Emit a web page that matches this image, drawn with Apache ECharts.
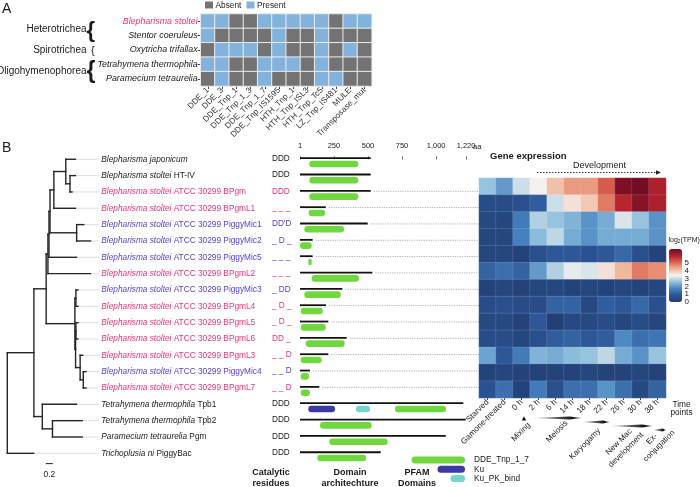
<!DOCTYPE html>
<html><head><meta charset="utf-8">
<script src="https://cdn.jsdelivr.net/npm/echarts@6/dist/echarts.min.js"></script>
<style>html,body{margin:0;padding:0;background:#fff}#c{width:700px;height:487px}</style>
</head><body><div id="c"></div>
<script>
// ---------------- Panel A data ----------------
const taxaA = ['Blepharisma stoltei','Stentor coeruleus','Oxytricha trifallax','Tetrahymena thermophila','Paramecium tetraurelia'];
const domainsA = ['DDE_1','DDE_3','DDE_Tnp_1','DDE_Tnp_1_3','DDE_Tnp_1_7','DDE_Tnp_IS1595','HTH_Tnp_1','HTH_Tnp_ISL3','HTH_Tnp_Tc5','LZ_Tnp_IS481','MULE','Transposase_mut'];
const presBstoltei      = [1,1,0,0,1,1,1,1,1,0,1,1];
const presScoeruleus    = [1,0,0,0,0,1,0,0,1,0,0,0];
const presOtrifallax    = [0,1,1,1,0,1,0,0,1,0,1,0];
const presTthermophila  = [1,1,0,0,1,1,1,0,1,0,0,0];
const presPtetraurelia  = [0,1,0,0,1,0,0,0,1,1,0,0];
const presenceRows = [presBstoltei, presScoeruleus, presOtrifallax, presTthermophila, presPtetraurelia];
const classesA = ['Heterotrichea','Spirotrichea','Oligohymenophorea'];

// ---------------- Panel B data ----------------
const leafIds = ['jap','htiv','bpgm','L1','M1','M2','M5','L2','M3','L4','L5','L6','L3','M4','L7','tpb1','tpb2','pgm','pbac'];
const leafItalic = ['Blepharisma japonicum','Blepharisma stoltei','Blepharisma stoltei','Blepharisma stoltei','Blepharisma stoltei','Blepharisma stoltei','Blepharisma stoltei','Blepharisma stoltei','Blepharisma stoltei','Blepharisma stoltei','Blepharisma stoltei','Blepharisma stoltei','Blepharisma stoltei','Blepharisma stoltei','Blepharisma stoltei','Tetrahymena thermophila','Tetrahymena thermophila','Paramecium tetraurelia','Trichoplusia ni'];
const leafSuffix = ['','HT-IV','ATCC 30299 BPgm','ATCC 30299 BPgmL1','ATCC 30299 PiggyMic1','ATCC 30299 PiggyMic2','ATCC 30299 PiggyMic5','ATCC 30299 BPgmL2','ATCC 30299 PiggyMic3','ATCC 30299 BPgmL4','ATCC 30299 BPgmL5','ATCC 30299 BPgmL6','ATCC 30299 BPgmL3','ATCC 30299 PiggyMic4','ATCC 30299 BPgmL7','Tpb1','Tpb2','Pgm','PiggyBac'];
// tree (Newick, branch lengths in substitutions/site)
const treeNewick = '((((((((jap:0.28,(htiv:0.16,bpgm:0.06):0.12):0.34,L1:0.62):0.11,(M1:0.21,M2:0.40):0.76):0.03,M5:0.79):0.03,L2:1.22):0.05,((M3:0.06,L4:0.06):0.03,((L5:0.06,L6:0.06):0.01,(L3:0.08,(M4:0.08,L7:0.08):0.09):0.13):0.02):0.82):0.35,(tpb1:0.98,(tpb2:0.85,pgm:0.85):0.29):0.24):0.76,pbac:0.76);';
const scaleBarLength = 0.2;
const catalytic = ['DDD','DDD','DDD','_ _ _',"DD'D",'_ D _','_ _ _','_ _ _','_ DD','_ D _','_ D _','DD _','_ _ D','_ _ D','_ _ D','DDD','DDD','DDD','DDD'];
// protein lengths and domains (aa)
const proteinLength = [520,520,520,190,498,94,94,532,312,192,209,344,209,74,143,1200,1218,1071,593];
const ddeStart = [69,69,69,65,33,1,62,87,33,6,6,43,6,6,6,698,148,216,128];
const ddeEnd   = [429,429,429,185,324,87,87,434,300,168,190,329,160,67,74,1073,527,645,486];
const kuStart   = [0,0,0,0,0,0,0,0,0,0,0,0,0,0,0,62,0,0,0];
const kuEnd     = [0,0,0,0,0,0,0,0,0,0,0,0,0,0,0,258,0,0,0];
const kuPkStart = [0,0,0,0,0,0,0,0,0,0,0,0,0,0,0,412,0,0,0];
const kuPkEnd   = [0,0,0,0,0,0,0,0,0,0,0,0,0,0,0,515,0,0,0];
const aaTicks = [1,250,500,750,1000,1220];
// expression log2(TPM)
const timePoints = ['Starved','Gamone-treated','0 h','2 h','6 h','14 h','18 h','22 h','26 h','30 h','38 h'];
const exprNames = ['BPgm','BPgmL1','PiggyMic1','PiggyMic2','PiggyMic5','BPgmL2','PiggyMic3','BPgmL4','BPgmL5','BPgmL6','BPgmL3','PiggyMic4','BPgmL7'];
const exprBPgm      = [2.3,1.8,2.7,3.0,3.6,4.0,4.0,4.6,5.8,5.9,5.3];
const exprBPgmL1    = [0.5,0.5,0.6,0.9,2.7,3.2,3.5,4.3,5.2,5.7,5.3];
const exprPiggyMic1 = [0.4,0.3,1.4,2.5,2.3,2.1,1.7,2.0,2.8,2.3,1.7];
const exprPiggyMic2 = [0.3,0.3,1.5,2.2,2.6,2.0,1.7,2.0,2.0,2.0,1.7];
const exprPiggyMic5 = [0.3,0.3,0.2,0.6,0.8,0.8,0.7,0.8,1.1,0.6,0.2];
const exprBPgmL2    = [1.0,1.2,1.0,1.8,2.5,2.9,2.8,3.2,3.7,4.3,4.1];
const exprPiggyMic3 = [0.2,0.3,0.2,0.3,0.3,0.2,0.3,0.2,0.3,0.2,0.3];
const exprBPgmL4    = [0.5,0.6,0.5,0.5,1.0,1.0,0.4,0.9,0.8,1.1,0.6];
const exprBPgmL5    = [0.4,0.4,0.2,0.8,0.1,0.4,0.4,0.5,0.3,0.5,0.3];
const exprBPgmL6    = [0.5,0.5,0.3,0.6,0.9,1.0,0.8,0.9,1.6,1.2,1.3];
const exprBPgmL3    = [1.9,0.8,1.4,2.1,2.0,2.2,2.3,2.6,2.0,1.7,2.3];
const exprPiggyMic4 = [0.2,0.3,0.2,0.2,0.2,0.2,0.3,0.2,0.2,0.3,0.2];
const exprBPgmL7    = [0.7,1.2,0.2,1.4,0.6,1.2,1.2,1.7,1.2,0.4,1.0];
const exprRows = [exprBPgm,exprBPgmL1,exprPiggyMic1,exprPiggyMic2,exprPiggyMic5,exprBPgmL2,exprPiggyMic3,exprBPgmL4,exprBPgmL5,exprBPgmL6,exprBPgmL3,exprPiggyMic4,exprBPgmL7];
const colorTicks = [0,1,2,3,4,5];

// ---------------- styles ----------------
const FF = '"Liberation Sans", Arial, Helvetica, sans-serif';
const INK = '#1a1a1a', PINK = '#e8337d', PURPLE = '#5b40cc';
const ABSENT = '#737373', PRESENT = '#82b3dd';
const GREEN = '#6fd83f', KU = '#3a3aa6', KUPK = '#72d6cc';

// ---------------- build tree ----------------
function parseNewick(s){
  let i = 0;
  function node(){
    const n = {c:[], name:'', d:0};
    if (s[i] === '('){ i++; n.c.push(node()); while (s[i] === ','){ i++; n.c.push(node()); } i++; }
    let nm = ''; while (i < s.length && !',():;'.includes(s[i])) nm += s[i++];
    n.name = nm;
    if (s[i] === ':'){ i++; let num=''; while (i < s.length && !',();'.includes(s[i])) num += s[i++]; n.d = parseFloat(num); }
    return n;
  }
  return node();
}
const treeRoot = parseNewick(treeNewick);
const segData = [], tipData = [];
(function layout(node, px){
  node.x = px + node.d;
  if (node.c.length){
    node.c.forEach(ch => layout(ch, node.x));
    node.y = (node.c[0].y + node.c[node.c.length-1].y) / 2;
    segData.push([node.x, node.c[0].y, node.x, node.c[node.c.length-1].y]);
  } else {
    node.y = leafIds.indexOf(node.name);
    tipData.push([node.x, node.y]);
  }
  segData.push([px, node.y, node.x, node.y]);
})(treeRoot, -0.17);

function leafColor(r){
  const s = leafSuffix[r];
  if (s.indexOf('PiggyMic') >= 0) return PURPLE;
  if (s.indexOf('BPgm') >= 0) return PINK;
  return INK;
}
function exprIndex(r){ const p = leafSuffix[r].split(' '); return exprNames.indexOf(p[p.length-1]); }

// ---------------- series data ----------------
const heatA = [];
presenceRows.forEach((row, r) => row.forEach((v, c) => heatA.push([c, r, v])));
const heatB = [];
exprRows.forEach((row, r) => row.forEach((v, c) => heatB.push([c, r, v])));
const domainData = proteinLength.map((L, r) => [r, L, ddeStart[r], ddeEnd[r], kuStart[r], kuEnd[r], kuPkStart[r], kuPkEnd[r], exprIndex(r) >= 0 ? 1 : 0]);

// ---------------- graphics ----------------
function T(text, x, y, o){ return {type:'text', x:x, y:y, silent:true, rotation:(o && o.rot) || 0,
  style:Object.assign({text:text, fill:INK, fontFamily:FF, fontSize:9, align:'left', verticalAlign:'middle'}, o && o.s)}; }
const R45 = Math.PI/4;
const graphics = [
  T('A', 2, 9, {s:{fontSize:14}}),
  T('B', 2, 148, {s:{fontSize:14}}),
  {type:'rect', shape:{x:205, y:1.5, width:8, height:7}, style:{fill:ABSENT}},
  T('Absent', 215.5, 5.5, {s:{fontSize:8.3}}),
  {type:'rect', shape:{x:246.5, y:1.5, width:8, height:7}, style:{fill:PRESENT}},
  T('Present', 257, 5.5, {s:{fontSize:8.3}}),
  T(classesA[0], 86.5, 29, {s:{align:'right', fontSize:10}}),
  T(classesA[1], 86.5, 50.5, {s:{align:'right', fontSize:10}}),
  T(classesA[2], 86.5, 71.5, {s:{align:'right', fontSize:10}}),
  T('{', 86.5, 30.5, {s:{fontSize:22, fontWeight:'bold'}}),
  T('{', 91, 50.5, {s:{fontSize:11}}),
  T('{', 86.5, 72, {s:{fontSize:23, fontWeight:'bold'}}),
  // panel B headers / footers
  T('Catalytic', 271, 473, {s:{align:'center', fontWeight:'bold', fontSize:9}}),
  T('residues', 271, 483.5, {s:{align:'center', fontWeight:'bold', fontSize:9}}),
  T('Domain', 350, 473, {s:{align:'center', fontWeight:'bold', fontSize:9}}),
  T('architechture', 350, 483.5, {s:{align:'center', fontWeight:'bold', fontSize:9}}),
  T('PFAM', 417, 473, {s:{align:'center', fontWeight:'bold', fontSize:9}}),
  T('Domains', 417, 483.5, {s:{align:'center', fontWeight:'bold', fontSize:9}}),
  {type:'rect', shape:{x:411.5, y:456.5, width:53.5, height:7, r:3.5}, style:{fill:GREEN}},
  {type:'rect', shape:{x:437.5, y:465.8, width:27.5, height:7, r:3.5}, style:{fill:KU}},
  {type:'rect', shape:{x:450.5, y:475, width:14.5, height:7, r:3.5}, style:{fill:KUPK}},
  T('DDE_Tnp_1_7', 474, 460, {s:{fontSize:8.3}}),
  T('Ku', 474, 469.3, {s:{fontSize:8.3}}),
  T('Ku_PK_bind', 474, 478.5, {s:{fontSize:8.3}}),
  T('aa', 473, 146.5, {s:{fontSize:7.5}}),
  T('Gene expression', 490, 156.5, {s:{fontWeight:'bold', fontSize:9.5}}),
  T('Development', 573, 166, {s:{fontSize:9}}),
  {type:'line', shape:{x1:537, y1:172.5, x2:657, y2:172.5}, style:{stroke:'#222', lineWidth:0.9, lineDash:[1.5,1.5]}},
  {type:'polygon', shape:{points:[[656,170.3],[661,172.5],[656,174.7]]}, style:{fill:'#222'}},
  {type:'text', x:668.5, y:240, silent:true, style:{text:'{a|log}{s|2}{a|(TPM)}', fontFamily:FF, align:'left', verticalAlign:'middle',
     rich:{a:{fontSize:7, fill:INK, fontFamily:FF}, s:{fontSize:4.8, fill:INK, fontFamily:FF, padding:[4,0,0,0]}}}},
  T('Time', 681.5, 404.5, {s:{align:'center', fontSize:8.3}}),
  T('points', 681.5, 413, {s:{align:'center', fontSize:8.3}}),
  {type:'polygon', shape:{points:[[521.8,420.5],[526.2,420.5],[524,416.3]]}, style:{fill:'#111'}},
  T('Mixing', 521, 432, {rot:R45, s:{align:'center', fontSize:8}}),
  T('Meiosis', 557, 431.5, {rot:R45, s:{align:'center', fontSize:8}}),
  T('Karyogamy', 585, 444, {rot:R45, s:{align:'center', fontSize:8}}),
  T('New Mac', 619, 442, {rot:R45, s:{align:'center', fontSize:8}}),
  T('development', 626, 450, {rot:R45, s:{align:'center', fontSize:8}}),
  T('Ex-', 652, 439, {rot:R45, s:{align:'center', fontSize:8}}),
  T('conjugation', 659, 446, {rot:R45, s:{align:'center', fontSize:8}})
];
function stageBar(x0, x1, y){
  return {type:'polygon', silent:true, shape:{points:[[x0,y],[x0+(x1-x0)*0.75,y-1.5],[x1,y],[x0+(x1-x0)*0.75,y+1.5]]},
    style:{fill:new echarts.graphic.LinearGradient(0,0,1,0,[{offset:0,color:'rgba(0,0,0,0.15)'},{offset:0.8,color:'#111'},{offset:1,color:'rgba(0,0,0,0.4)'}])}};
}
graphics.push(stageBar(533,582,418), stageBar(582,610,422), stageBar(610,653,426), stageBar(653,666,430));

// ---------------- chart ----------------
const chart = echarts.init(document.getElementById('c'), null, {renderer:'canvas', width:700, height:487});
const gridBase = {containLabel:false, outerBoundsMode:'none', borderWidth:0};
const hidden = {show:false};
const option = {
  animation:false,
  backgroundColor:'#fff',
  textStyle:{fontFamily:FF},
  grid:[
    Object.assign({left:200.7, top:14, width:171, height:72, show:true, backgroundColor:'#ebebeb'}, gridBase),
    Object.assign({left:7.3, top:151.1, width:93.5, height:310.4}, gridBase),
    Object.assign({left:300, top:151.1, width:179, height:310.4}, gridBase),
    Object.assign({left:479, top:178, width:187, height:220}, gridBase),
    Object.assign({left:669, top:255, width:13, height:47}, gridBase)
  ],
  xAxis:[
    {gridIndex:0, type:'category', data:domainsA, position:'bottom', axisLine:hidden, splitLine:hidden,
     axisTick:{show:true, length:3, alignWithLabel:true, lineStyle:{color:'#444'}},
     axisLabel:{rotate:45, fontSize:8.2, color:'#333', margin:3, interval:0, fontFamily:FF}},
    {gridIndex:1, type:'value', min:-0.17, max:2.5, show:false},
    {gridIndex:2, type:'value', min:1, max:1315, position:'top', axisLine:hidden, splitLine:hidden,
     axisTick:{show:true, length:3, customValues:aaTicks, lineStyle:{color:'#444', width:0.8}},
     axisLabel:{customValues:aaTicks, fontSize:7.5, color:INK, margin:1.5, fontFamily:FF,
       formatter:v => Number(v).toLocaleString('en-US')}},
    {gridIndex:3, type:'category', data:timePoints, position:'bottom', axisLine:hidden, splitLine:hidden,
     axisTick:{show:true, length:2, alignWithLabel:true, lineStyle:{color:'#444'}},
     axisLabel:{rotate:45, fontSize:8.2, color:INK, margin:3, interval:0, fontFamily:FF}},
    {gridIndex:4, type:'value', show:false}
  ],
  yAxis:[
    {gridIndex:0, type:'category', data:taxaA, inverse:true, axisLine:hidden, splitLine:hidden,
     axisTick:{show:true, length:3, alignWithLabel:true, lineStyle:{color:'#444'}},
     axisLabel:{fontSize:8.9, fontStyle:'italic', margin:3, fontFamily:FF, color:(v, i) => i === 0 ? PINK : INK}},
    {gridIndex:1, type:'value', min:-0.5, max:18.5, inverse:true, show:false},
    {gridIndex:2, type:'value', min:-0.5, max:18.5, inverse:true, show:false},
    {gridIndex:3, type:'category', data:exprNames, inverse:true, show:false},
    {gridIndex:4, type:'value', min:0, max:6, interval:1, position:'right', axisLine:hidden, axisTick:hidden, splitLine:hidden,
     axisLabel:{fontSize:8, color:INK, margin:2.5, fontFamily:FF, formatter:v => colorTicks.indexOf(v) >= 0 ? String(v) : ''}}
  ],
  visualMap:[
    {type:'piecewise', show:false, seriesIndex:0, dimension:2, pieces:[{value:0, color:ABSENT},{value:1, color:PRESENT}]},
    {type:'continuous', seriesIndex:5, dimension:2, min:0, max:6, left:669, top:249, itemWidth:13, itemHeight:53,
     padding:0, calculable:false, realtime:false, text:null, showLabel:false, hoverLink:false,
     inRange:{color:['#213d70','#2b5494','#4581bf','#8fc0dd','#f4f2ef','#f2b496','#d9654f','#b2212e','#6a0a22']}}
  ],
  graphic:{elements:graphics},
  series:[
    {type:'heatmap', xAxisIndex:0, yAxisIndex:0, data:heatA, itemStyle:{borderColor:'#ececec', borderWidth:1}, emphasis:{disabled:true}},
    {type:'custom', xAxisIndex:1, yAxisIndex:1, data:segData, encode:{x:[0,2], y:[1,3]}, clip:false, silent:true,
     renderItem:(params, api) => {
       const p0 = api.coord([api.value(0), api.value(1)]);
       const p1 = api.coord([api.value(2), api.value(3)]);
       return {type:'line', shape:{x1:p0[0], y1:p0[1], x2:p1[0], y2:p1[1]}, style:{stroke:'#262626', lineWidth:1.4, lineCap:'square'}};
     }},
    {type:'custom', xAxisIndex:1, yAxisIndex:1, data:tipData, encode:{x:0, y:1}, clip:false, silent:true,
     renderItem:(params, api) => {
       const r = api.value(1);
       const p = api.coord([api.value(0), r]);
       const right = params.coordSys.x + params.coordSys.width;
       const col = leafColor(r);
       const txt = leafSuffix[r] ? '{i|' + leafItalic[r] + '}{n| ' + leafSuffix[r] + '}' : '{i|' + leafItalic[r] + '}';
       return {type:'group', children:[
         {type:'line', shape:{x1:p[0]+0.7, y1:p[1], x2:right-2, y2:p[1]}, style:{stroke:'#d6d6d6', lineWidth:0.8}},
         {type:'text', x:right+0.5, y:p[1], style:{text:txt, align:'left', verticalAlign:'middle',
           rich:{i:{fontStyle:'italic', fontSize:8.3, fontFamily:FF, fill:col}, n:{fontSize:8.3, fontFamily:FF, fill:col}}}}
       ]};
     }},
    {type:'custom', xAxisIndex:1, yAxisIndex:1, data:[[0.93, 18.63]], encode:{x:0, y:1}, clip:false, silent:true,
     renderItem:(params, api) => {
       const a = api.coord([api.value(0), api.value(1)]);
       const b = api.coord([api.value(0) + scaleBarLength, api.value(1)]);
       return {type:'group', children:[
         {type:'line', shape:{x1:a[0], y1:a[1], x2:b[0], y2:b[1]}, style:{stroke:'#222', lineWidth:1}},
         {type:'text', x:(a[0]+b[0])/2, y:a[1]+11, style:{text:String(scaleBarLength), align:'center', verticalAlign:'middle', fontSize:8.3, fontFamily:FF, fill:INK}}
       ]};
     }},
    {type:'custom', xAxisIndex:2, yAxisIndex:2, data:domainData, encode:{x:[1,2,3], y:0}, clip:false, silent:true,
     renderItem:(params, api) => {
       const r = api.value(0);
       const s = api.coord([1, r]);
       const e = api.coord([api.value(1), r]);
       const y = s[1];
       const ch = [];
       ch.push({type:'rect', shape:{x:s[0], y:y-2, width:e[0]-s[0], height:1.8}, style:{fill:'#111'}});
       const box = (a, b, color) => {
         const pa = api.coord([a, r]), pb = api.coord([b, r]);
         ch.push({type:'rect', shape:{x:pa[0], y:y+1.4, width:pb[0]-pa[0], height:6.6, r:3}, style:{fill:color}});
       };
       box(api.value(2), api.value(3), GREEN);
       if (api.value(4) > 0) box(api.value(4), api.value(5), KU);
       if (api.value(6) > 0) box(api.value(6), api.value(7), KUPK);
       if (api.value(8) > 0) ch.push({type:'line', shape:{x1:e[0]+3, y1:y-0.7, x2:params.coordSys.x + params.coordSys.width, y2:y-0.7},
         style:{stroke:'#9a9a9a', lineWidth:0.8, lineDash:[1.2,1.2]}});
       ch.push({type:'text', x:params.coordSys.x - 28, y:y-0.5, style:{text:catalytic[r], align:'left', verticalAlign:'middle', fontSize:8.2, fontFamily:FF, fill:leafColor(r)}});
       return {type:'group', children:ch};
     }},
    {type:'heatmap', xAxisIndex:3, yAxisIndex:3, data:heatB, itemStyle:{borderColor:'rgba(255,255,255,0.2)', borderWidth:0.6}, emphasis:{disabled:true}},
    {type:'scatter', xAxisIndex:4, yAxisIndex:4, data:[], silent:true}
  ]
};
chart.setOption(option);
</script>
</body></html>
